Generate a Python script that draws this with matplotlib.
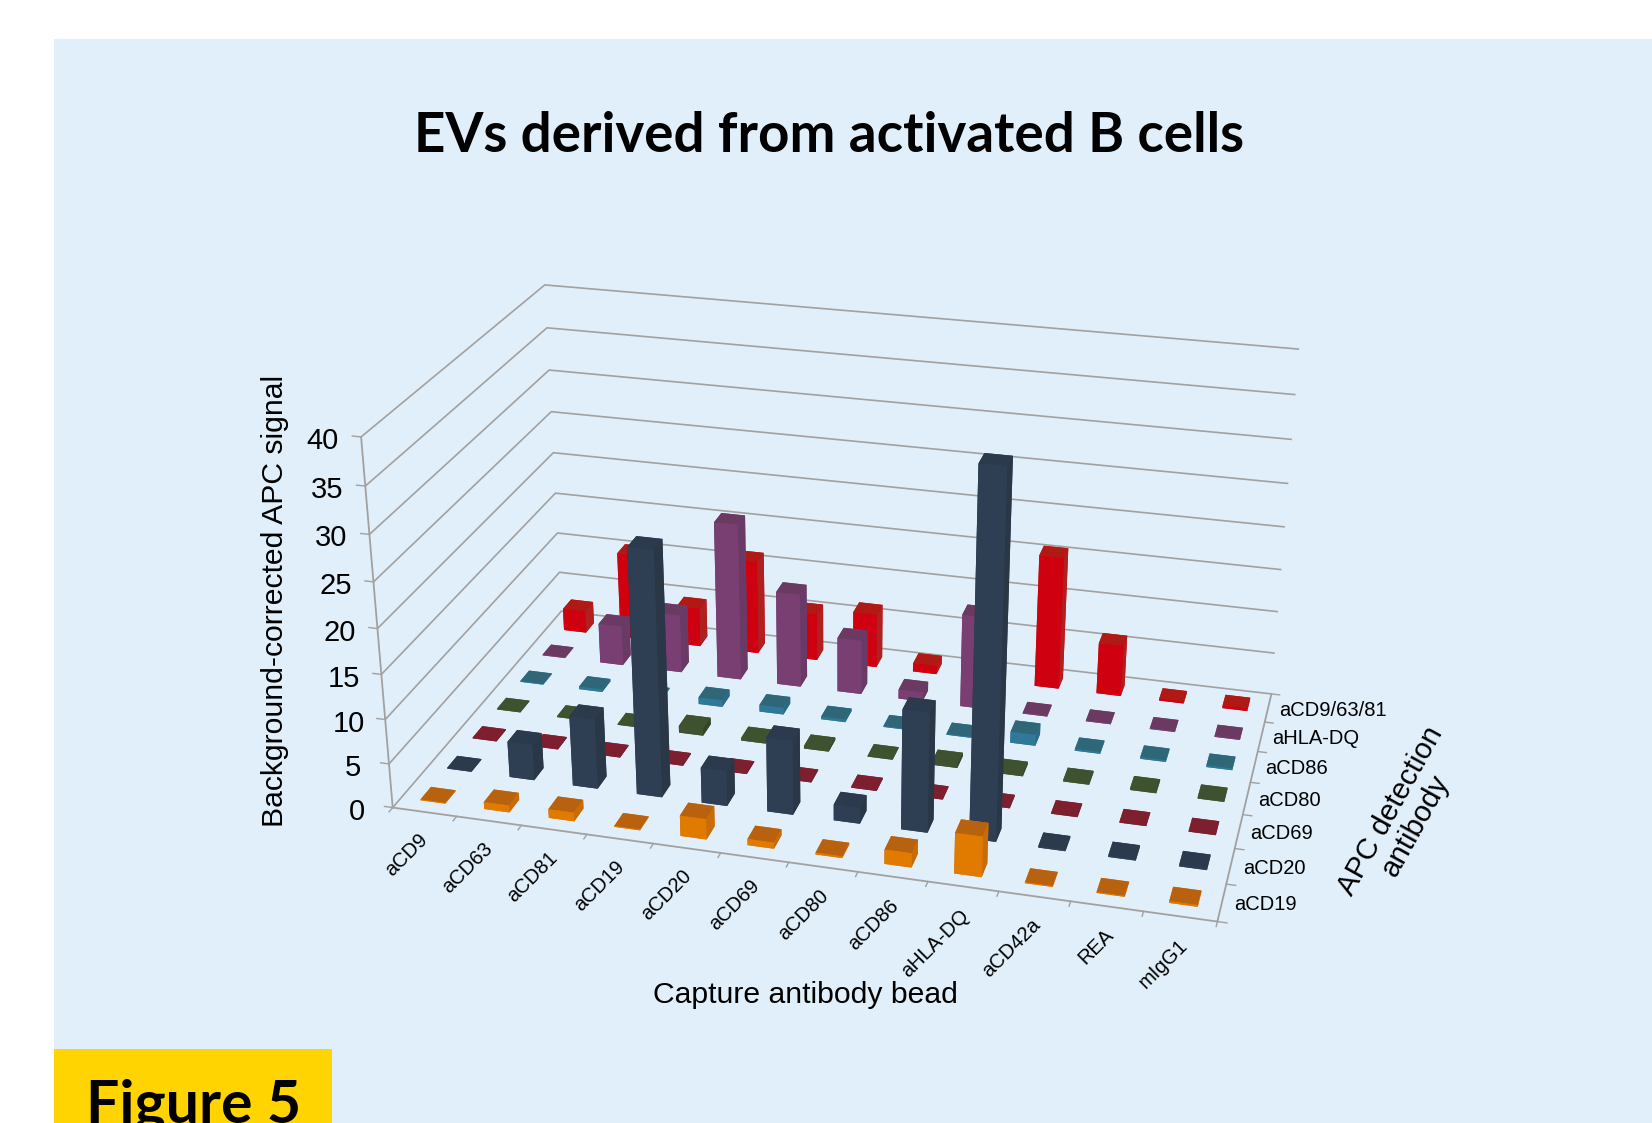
import numpy as np
import matplotlib
matplotlib.use('Agg')
from matplotlib import pyplot as plt
from matplotlib.patches import Rectangle

W, H = 1652, 1123
capture = ['aCD9', 'aCD63', 'aCD81', 'aCD19', 'aCD20', 'aCD69', 'aCD80', 'aCD86', 'aHLA-DQ', 'aCD42a', 'REA', 'mIgG1']
detection = ['aCD19', 'aCD20', 'aCD69', 'aCD80', 'aCD86', 'aHLA-DQ', 'aCD9/63/81']
z_ticks = [0, 5, 10, 15, 20, 25, 30, 35, 40]

vals_cd19 = [0.1, 0.8, 1.0, 0.1, 2.3, 0.7, 0.2, 1.6, 4.5, 0.1, 0.1, 0.2]
vals_cd20 = [0.1, 4.1, 8.0, 27.5, 4.0, 8.4, 1.8, 13.4, 39.8, 0.2, 0.2, 0.2]
vals_cd69 = [0.1] * 12
vals_cd80 = [0.1, 0.1, 0.1, 0.8, 0.3, 0.3, 0.1, 0.4, 0.3, 0.2, 0.2, 0.2]
vals_cd86 = [0.1, 0.3, 0.1, 0.8, 0.8, 0.3, 0.1, 0.1, 1.3, 0.2, 0.2, 0.2]
vals_hla = [0.1, 4.8, 7.0, 18.7, 11.2, 6.5, 1.1, 11.0, 0.1, 0.1, 0.1, 0.1]
vals_cd9 = [2.7, 10.5, 4.7, 11.3, 5.7, 6.5, 1.0, 0.3, 15.8, 6.1, 0.2, 0.3]
rows = [vals_cd19, vals_cd20, vals_cd69, vals_cd80, vals_cd86, vals_hla, vals_cd9]

# front, top, side colours for each row
row_colors = [('#e07b00', '#b8620f', '#c86c08'),
              ('#2e3f54', '#2b3a4c', '#2a3746'),
              ('#7d1f2f', '#7d1f2f', '#6a1a28'),
              ('#40522f', '#3f5230', '#34452a'),
              ('#2e7898', '#2f6678', '#2a6a86'),
              ('#7a3f72', '#6a3a63', '#6a3a66'),
              ('#cf0010', '#b01a14', '#b02020')]

fig = plt.figure(figsize=(W / 100, H / 100), dpi=100, facecolor='white')
fig.add_artist(Rectangle((54 / W, 0), 1 - 54 / W, 1 - 39 / H, color='#e0eff9', lw=0, zorder=-10))
fig.add_artist(Rectangle((54 / W, 0), 278 / W, 74 / H, color='#ffd400', lw=0, zorder=-9))

# camera and box fitted to the corners of the reference
S = 1100
ax = fig.add_axes([(836.83 - S / 2) / W, (H - 590.29 - S / 2) / H, S / W, S / H], projection='3d', computed_zorder=False)
ax.patch.set_alpha(0)
ax.set_xlim(0, 12)
ax.set_ylim(0, 7)
ax.set_zlim(0, 40)
ax.view_init(24.518, -75.398, -0.11782)
ax.set_proj_type('persp', focal_length=0.42041)
ax.set_box_aspect((12, 6.9221, 5.7879), zoom=0.89805)

grey = '#a3a0a0'
bar_w = 0.39
for j in range(6, -1, -1):
    for i in range(12):
        front, top, side = row_colors[j]
        ax.bar3d(i + 0.5 - bar_w / 2, j + 0.5 - bar_w / 2, 0, bar_w, bar_w, rows[j][i], shade=False,
                 zorder=10 + (6 - j) * 20 + i, color=[front, top, front, front, side, side])

# labels are nudged so they sit like the reference, the tick marks are drawn below
ax.set_xticks(np.arange(12) + 0.68)
ax.set_xticklabels(capture, rotation=45, ha='right', va='top', fontsize=14.5, family='Liberation Sans')
ax.set_yticks(np.arange(7) + 0.62)
ax.set_yticklabels(detection, ha='left', va='center', fontsize=14.5, family='Liberation Sans')
ax.tick_params(axis='y', pad=-2.5)
ax.set_zticks(z_ticks)
ax.tick_params(axis='z', labelsize=21, pad=7.5)
for t in ax.get_zticklabels():
    t.set_family('Liberation Sans')
    t.set_va('center')
ax.zaxis.set_ticks_position('lower')
for a in (ax.xaxis, ax.yaxis, ax.zaxis):
    a.set_pane_color((1, 1, 1, 0))
    a.pane.set_edgecolor((1, 1, 1, 0))
    a.line.set_color(grey)
    a.line.set_linewidth(1.3)
    a._axinfo['tick']['inward_factor'] = 0
    a._axinfo['tick']['outward_factor'] = 0
ax.xaxis._axinfo['grid']['color'] = (0, 0, 0, 0)
ax.yaxis._axinfo['grid']['color'] = (0, 0, 0, 0)
ax.zaxis._axinfo['grid']['color'] = grey
ax.zaxis._axinfo['grid']['linewidth'] = 1.2

for i in range(13):
    ax.plot([i, i], [0, -0.13], [0, 0], color=grey, lw=1, zorder=5)
for j in range(8):
    ax.plot([12, 12.13], [j, j], [0, 0], color=grey, lw=1, zorder=5)
for z in z_ticks:
    ax.plot([0, -0.13], [0, 0], [z, z], color=grey, lw=1, zorder=5)

fig.text(805 / W, 1 - 995 / H, 'Capture antibody bead', fontsize=21.7, family='Liberation Sans', ha='center', va='center')
fig.text(1403 / W, 1 - 818 / H, 'APC detection\nantibody', fontsize=21.2, family='Liberation Sans', rotation=61,
         ha='center', va='center', linespacing=1.05)
fig.text(275 / W, 1 - 601 / H, 'Background-corrected APC signal', fontsize=21.7, family='Liberation Sans', rotation=90,
         ha='center', va='center')

fig.text(829 / W, 1 - 136 / H, 'EVs derived from activated B cells', fontsize=39.4, fontweight='bold',
         family='Lato', ha='center', va='center')
fig.text(86 / W, 1 - 1123 / H, 'Figure 5', fontsize=42.5, fontweight='bold', family='Lato', ha='left', va='baseline')

fig.savefig('out.png', dpi=100)
